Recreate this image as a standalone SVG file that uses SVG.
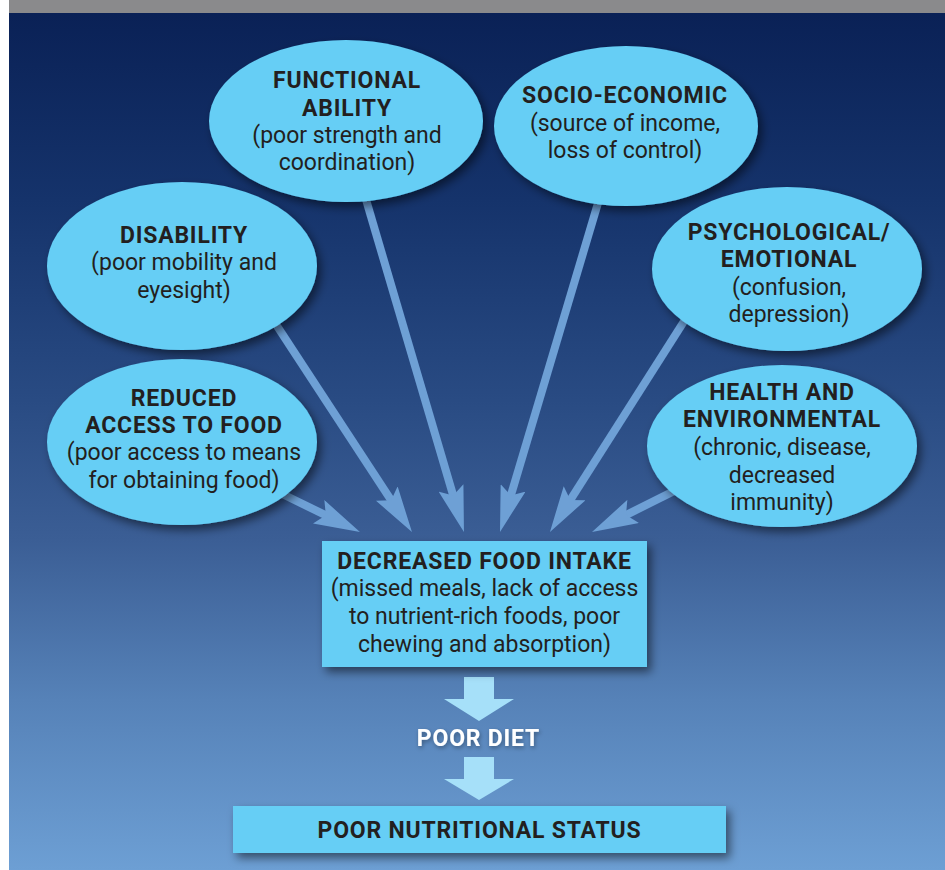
<svg xmlns="http://www.w3.org/2000/svg" width="945" height="870" viewBox="0 0 945 870">
<style>
.node{fill:#66cef5;filter:url(#sh)}
.t{font-family:Roboto,"Liberation Sans",sans-serif;fill:#231f20;text-anchor:middle;font-size:23px}
.b{font-weight:bold;letter-spacing:0.8px}
.r{font-weight:normal;letter-spacing:0px}
.conn{stroke:#6ea0d5;stroke-width:8;fill:none;marker-end:url(#ah)}
.big{fill:#a6e0f9}
</style>
<defs>
<linearGradient id="bg" x1="0" y1="13" x2="0" y2="870" gradientUnits="userSpaceOnUse">
<stop offset="0" stop-color="#0a2156"/>
<stop offset="0.218" stop-color="#15336b"/>
<stop offset="0.452" stop-color="#294b83"/>
<stop offset="0.615" stop-color="#3b5e95"/>
<stop offset="0.802" stop-color="#5682b8"/>
<stop offset="1" stop-color="#6d9fd4"/>
</linearGradient>
<filter id="sh" x="-20%" y="-20%" width="150%" height="160%">
<feDropShadow dx="4" dy="5" stdDeviation="5" flood-color="#000" flood-opacity="0.5"/>
</filter>
<filter id="tsh" x="-20%" y="-50%" width="140%" height="200%">
<feDropShadow dx="1" dy="2" stdDeviation="2" flood-color="#000" flood-opacity="0.35"/>
</filter>
<marker id="ah" markerUnits="userSpaceOnUse" viewBox="0 -13 46 26" refX="26" refY="0" markerWidth="46" markerHeight="26" orient="auto">
<path d="M0,-13 L46,0 L0,13 L8,0 Z" fill="#6ea0d5"/>
</marker>
</defs>
<rect x="0" y="0" width="945" height="870" fill="#ffffff"/>
<rect x="9" y="0" width="936" height="13" fill="#8a8a8c"/>
<rect x="9" y="13" width="936" height="857" fill="url(#bg)"/>

<g id="connectors">
<line class="conn" x1="270" y1="488" x2="342" y2="523.2"/>
<line class="conn" x1="260" y1="300" x2="401" y2="515.3"/>
<line class="conn" x1="358.5" y1="174.2" x2="458.3" y2="512.8"/>
<line class="conn" x1="606.6" y1="174.2" x2="505.7" y2="512.8"/>
<line class="conn" x1="699.1" y1="297.7" x2="560.7" y2="515.1"/>
<line class="conn" x1="687.9" y1="484.1" x2="609.9" y2="523.1"/>
<polygon class="big" points="464,677 494,677 494,699 514,699 479,721 444,699 464,699"/>
<polygon class="big" points="464,757 494,757 494,779 514,779 479,800 444,779 464,779"/>
</g>

<g id="functional">
<ellipse class="node" cx="346" cy="121" rx="137" ry="81"/>
<text class="t b" x="347" y="88">FUNCTIONAL</text>
<text class="t b" x="347" y="116">ABILITY</text>
<text class="t r" x="347" y="143">(poor strength and</text>
<text class="t r" x="347" y="170">coordination)</text>
</g>

<g id="socio">
<ellipse class="node" cx="626" cy="126" rx="132" ry="80"/>
<text class="t b" x="625" y="103">SOCIO-ECONOMIC</text>
<text class="t r" x="625" y="131">(source of income,</text>
<text class="t r" x="625" y="158">loss of control)</text>
</g>

<g id="disability">
<ellipse class="node" cx="182" cy="266" rx="135" ry="84"/>
<text class="t b" x="184" y="243">DISABILITY</text>
<text class="t r" x="184" y="270">(poor mobility and</text>
<text class="t r" x="184" y="298">eyesight)</text>
</g>

<g id="psychological">
<ellipse class="node" cx="787" cy="269" rx="135" ry="82"/>
<text class="t b" x="789" y="240">PSYCHOLOGICAL/</text>
<text class="t b" x="789" y="267">EMOTIONAL</text>
<text class="t r" x="789" y="295">(confusion,</text>
<text class="t r" x="789" y="322">depression)</text>
</g>

<g id="reduced">
<ellipse class="node" cx="182" cy="442" rx="135" ry="83"/>
<text class="t b" x="184" y="406">REDUCED</text>
<text class="t b" x="184" y="433">ACCESS TO FOOD</text>
<text class="t r" x="184" y="460">(poor access to means</text>
<text class="t r" x="184" y="488">for obtaining food)</text>
</g>

<g id="health">
<ellipse class="node" cx="782" cy="446" rx="135" ry="81"/>
<text class="t b" x="782" y="400">HEALTH AND</text>
<text class="t b" x="782" y="427">ENVIRONMENTAL</text>
<text class="t r" x="782" y="455">(chronic, disease,</text>
<text class="t r" x="782" y="483">decreased</text>
<text class="t r" x="782" y="510">immunity)</text>
</g>

<g id="intake">
<rect class="node" x="322" y="541" width="325" height="126"/>
<text class="t b" x="484.5" y="569">DECREASED FOOD INTAKE</text>
<text class="t r" x="484.5" y="596">(missed meals, lack of access</text>
<text class="t r" x="484.5" y="624">to nutrient-rich foods, poor</text>
<text class="t r" x="484.5" y="652">chewing and absorption)</text>
</g>

<g id="diet">
<text class="t b" x="478.5" y="746" style="fill:#ffffff;filter:url(#tsh)">POOR DIET</text>
</g>

<g id="status">
<rect class="node" x="233" y="806" width="493" height="47"/>
<text class="t b" x="479.5" y="838">POOR NUTRITIONAL STATUS</text>
</g>
</svg>
